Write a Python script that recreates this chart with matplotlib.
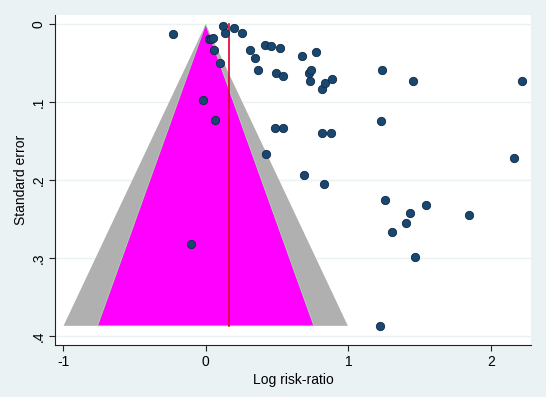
import numpy as np
import matplotlib
matplotlib.use("Agg")
import matplotlib.pyplot as plt

plt.rcParams['font.family'] = ['Liberation Sans', 'DejaVu Sans']

# study estimates (log risk-ratio) and their standard errors
log_rr = [-0.229, 0.123, 0.132, 0.195, 0.251, 0.020, 0.035, 0.050, 0.060, 0.097,
          0.312, 0.343, 0.415, 0.459, 0.518, 0.366, 0.490, 0.543, 0.676, 0.775,
          0.721, 0.740, 0.733, 0.812, 0.835, 0.884, -0.017, 1.237, 1.457, 2.216,
          1.228, 0.067, 0.487, 0.539, 0.814, 0.880, 0.420, 0.688, 0.828, 2.160,
          1.258, 1.548, 1.433, 1.844, 1.405, 1.303, 1.471, -0.104, 1.225]
se = [0.012, 0.002, 0.011, 0.005, 0.011, 0.019, 0.019, 0.018, 0.033, 0.049,
      0.033, 0.043, 0.026, 0.028, 0.030, 0.059, 0.063, 0.066, 0.040, 0.036,
      0.063, 0.059, 0.073, 0.083, 0.075, 0.070, 0.097, 0.059, 0.073, 0.072,
      0.124, 0.123, 0.133, 0.133, 0.139, 0.139, 0.166, 0.193, 0.205, 0.172,
      0.225, 0.232, 0.242, 0.245, 0.255, 0.266, 0.298, 0.282, 0.387]

pooled = 0.16
se_max = max(se)

bg = '#EAF2F3'
fig = plt.figure(figsize=(5.46, 3.97), dpi=100, facecolor=bg)
ax = fig.add_axes([0.1007, 0.1302, 0.8718, 0.8330])
ax.set_facecolor('white')

# contour funnels (99% grey, 95% magenta), apex at 0
z99, z95 = 2.576, 1.96
ax.fill([0, -z99 * se_max, z99 * se_max], [0, se_max, se_max],
        color='#B0B0B0', lw=0, zorder=1)
ax.fill([0, -z95 * se_max, z95 * se_max], [0, se_max, se_max],
        facecolor='#FF00FF', edgecolor='#9FE39F', lw=0.6, zorder=2)

ax.plot([pooled, pooled], [0, se_max], color='#E0002A', lw=1.2, zorder=3)

ax.scatter(log_rr, se, s=36, color='#1A476F', edgecolor='#0E2A45',
           linewidth=0.6, zorder=4)

ax.set_xlim(-1.057, 2.281)
ax.set_ylim(0.412, -0.0126)
ax.set_xticks([-1, 0, 1, 2])
ax.set_xticklabels(['-1', '0', '1', '2'])
ax.set_yticks([0, 0.1, 0.2, 0.3, 0.4])
ax.set_yticklabels(['0', '.1', '.2', '.3', '.4'], rotation=90, va='center')
ax.grid(axis='y', color=bg, lw=1.0, zorder=0)
ax.set_axisbelow(True)

for s in ['top', 'right']:
    ax.spines[s].set_visible(False)
for s in ['left', 'bottom']:
    ax.spines[s].set_color('#222222')
    ax.spines[s].set_linewidth(0.8)
ax.tick_params(direction='out', length=4, width=0.8, color='#222222',
               labelsize=10, pad=3)

ax.set_xlabel('Log risk-ratio', fontsize=10, labelpad=3)
ax.set_ylabel('Standard error', fontsize=10, labelpad=2)

fig.savefig('out.png', dpi=100, facecolor=bg)
